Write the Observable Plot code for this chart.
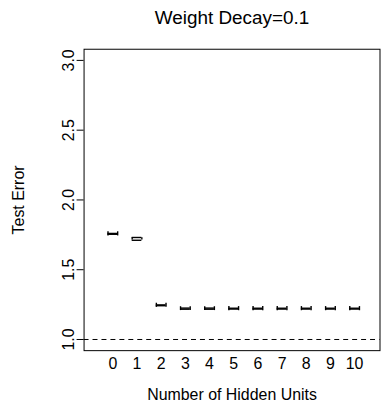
<!DOCTYPE html>
<html>
<head>
<meta charset="utf-8">
<script src="https://cdn.jsdelivr.net/npm/d3@7"></script>
<script src="https://cdn.jsdelivr.net/npm/@observablehq/plot@0.6"></script>
<style>
  html, body { margin: 0; padding: 0; background: #fff; overflow: hidden; }
  #chart svg { display: block; }
</style>
</head>
<body>
<div id="chart"></div>
<script>
// Data
const hiddenUnits = [0, 1, 2, 3, 4, 5, 6, 7, 8, 9, 10];
const meanError   = [1.757, 1.721, 1.245, 1.221, 1.221, 1.221, 1.221, 1.221, 1.221, 1.221, 1.221];
const errHalf     = [0.003, 0.010, 0.003, 0.004, 0.004, 0.003, 0.003, 0.003, 0.003, 0.003, 0.003];
const yTicks      = [1.0, 1.5, 2.0, 2.5, 3.0];
const xTicks      = hiddenUnits;
const baseline    = [1.0];
const titleText   = "Weight Decay=0.1";
const xLabel      = "Number of Hidden Units";
const yLabel      = "Test Error";

const capHalfWidth = 0.2;
const rows = hiddenUnits.map((h, i) => ({
  x: h,
  lo: meanError[i] - errHalf[i],
  hi: meanError[i] + errHalf[i],
  xl: h - capHalfWidth,
  xr: h + capHalfWidth
}));

const font = "Liberation Sans, Arial, Helvetica, sans-serif";

const chart = Plot.plot({
  width: 383,
  height: 405,
  marginLeft: 84,
  marginRight: 1.5,
  marginTop: 49,
  marginBottom: 53,
  style: {fontFamily: font, fontSize: "16px", color: "black", background: "white"},
  x: {domain: [-1.19, 11.05]},
  y: {domain: [0.92, 3.08]},
  marks: [
    Plot.frame({stroke: "black", strokeWidth: 1}),
    Plot.ruleY(baseline, {stroke: "black", strokeDasharray: "5,4", strokeWidth: 1}),
    // error bar caps (top and bottom)
    Plot.ruleY(rows, {y: "lo", x1: "xl", x2: "xr", stroke: "black", strokeWidth: 1.4}),
    Plot.ruleY(rows, {y: "hi", x1: "xl", x2: "xr", stroke: "black", strokeWidth: 1.4}),
    // end verticals
    Plot.ruleX(rows, {x: "xl", y1: "lo", y2: "hi", stroke: "black", strokeWidth: 1.4, insetTop: -2.5, insetBottom: -2.5}),
    Plot.ruleX(rows, {x: "xr", y1: "lo", y2: "hi", stroke: "black", strokeWidth: 1.4, insetTop: -2.5, insetBottom: -2.5}),
    Plot.axisY({
      ticks: yTicks,
      tickFormat: d => d.toFixed(1),
      tickSize: 7,
      tickPadding: 3,
      tickRotate: -90,
      fontSize: 16,
      label: yLabel,
      labelAnchor: "center",
      labelArrow: "none",
      labelOffset: 72
    }),
    Plot.axisX({
      ticks: xTicks,
      tickSize: 0,
      tickPadding: 7,
      fontSize: 16,
      label: xLabel,
      labelAnchor: "center",
      labelArrow: "none",
      labelOffset: 50
    }),
    Plot.text([titleText], {frameAnchor: "top", dy: -31, fontSize: 19, text: d => d, lineAnchor: "middle"})
  ]
});
document.getElementById("chart").appendChild(chart);
</script>
</body>
</html>
